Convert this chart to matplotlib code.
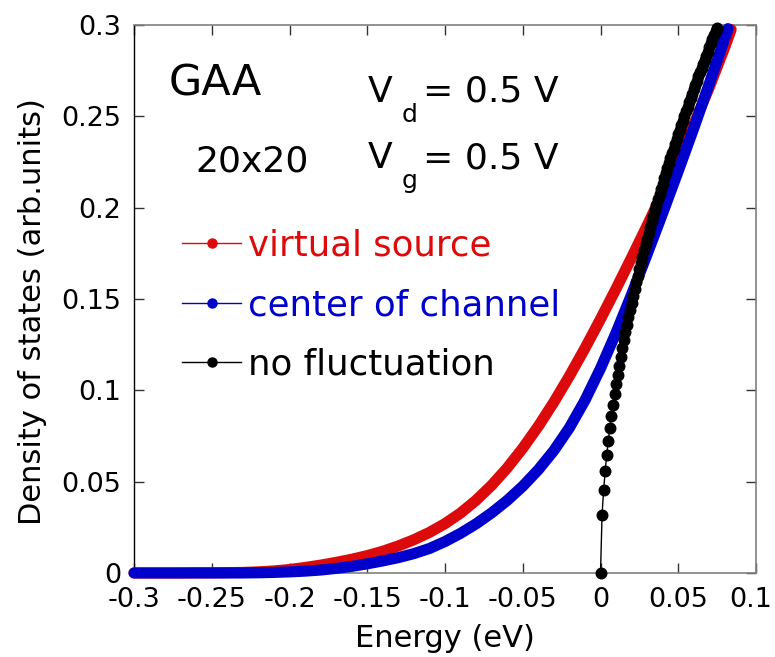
import matplotlib
matplotlib.use("Agg")
import matplotlib.pyplot as plt
from matplotlib.lines import Line2D
from matplotlib.transforms import ScaledTranslation

plt.rcParams['font.family'] = ['DejaVu Sans']

# ---------------- data ----------------
energy_vs = [-0.30, -0.29, -0.28, -0.27, -0.26, -0.25, -0.24, -0.23, -0.22, -0.21,
             -0.20, -0.19, -0.18, -0.17, -0.16, -0.15, -0.14, -0.13, -0.12, -0.11,
             -0.10, -0.09, -0.08, -0.07, -0.06, -0.05, -0.04, -0.03, -0.02, -0.01,
             0.00, 0.01, 0.02, 0.03, 0.04, 0.05, 0.06, 0.07, 0.08, 0.084]
dos_virtual_source = [0.0000, 0.0000, 0.0000, 0.0000, 0.0001, 0.0001, 0.0002, 0.0003, 0.0006, 0.0011,
                      0.0019, 0.0030, 0.0043, 0.0058, 0.0075, 0.0095, 0.0119, 0.0148, 0.0182, 0.0222,
                      0.0270, 0.0328, 0.0398, 0.0480, 0.0575, 0.0683, 0.0803, 0.0935, 0.1078, 0.1230,
                      0.1390, 0.1556, 0.1727, 0.1902, 0.2082, 0.2265, 0.2455, 0.2660, 0.2880, 0.2975]

energy_cc = [-0.30, -0.29, -0.28, -0.27, -0.26, -0.25, -0.24, -0.23, -0.22, -0.21,
             -0.20, -0.19, -0.18, -0.17, -0.16, -0.15, -0.14, -0.13, -0.12, -0.11,
             -0.10, -0.09, -0.08, -0.07, -0.06, -0.05, -0.04, -0.03, -0.02, -0.01,
             0.00, 0.01, 0.02, 0.03, 0.04, 0.05, 0.06, 0.07, 0.08, 0.082]
dos_center_channel = [0.0000, 0.0000, 0.0000, 0.0000, 0.0000, 0.0000, 0.0000, 0.0000, 0.0001, 0.0003,
                      0.0006, 0.0010, 0.0016, 0.0025, 0.0036, 0.0050, 0.0066, 0.0084, 0.0106, 0.0134,
                      0.0172, 0.0217, 0.0269, 0.0329, 0.0397, 0.0475, 0.0565, 0.0670, 0.0795, 0.0945,
                      0.1120, 0.1315, 0.1525, 0.1745, 0.1970, 0.2200, 0.2435, 0.2680, 0.2930, 0.2980]

energy_nf = [0.000, 0.001, 0.002, 0.003, 0.004, 0.005, 0.006, 0.007, 0.008, 0.009,
             0.010, 0.011, 0.012, 0.013, 0.014, 0.015, 0.016, 0.017, 0.018, 0.019,
             0.020, 0.021, 0.022, 0.023, 0.024, 0.025, 0.026, 0.027, 0.028, 0.029,
             0.030, 0.031, 0.032, 0.033, 0.034, 0.035, 0.036, 0.037, 0.038, 0.039,
             0.040, 0.041, 0.042, 0.043, 0.044, 0.045, 0.046, 0.047, 0.048, 0.049,
             0.050, 0.051, 0.052, 0.053, 0.054, 0.055, 0.056, 0.057, 0.058, 0.059,
             0.060, 0.061, 0.062, 0.063, 0.064, 0.065, 0.066, 0.067, 0.068, 0.069,
             0.070, 0.071, 0.072, 0.073, 0.074, 0.075]
dos_no_fluct = [0.0000, 0.0320, 0.0454, 0.0558, 0.0646, 0.0724, 0.0794, 0.0860, 0.0921, 0.0978,
                0.1033, 0.1085, 0.1135, 0.1183, 0.1229, 0.1274, 0.1318, 0.1360, 0.1401, 0.1441,
                0.1480, 0.1518, 0.1556, 0.1593, 0.1628, 0.1664, 0.1698, 0.1732, 0.1766, 0.1799,
                0.1831, 0.1863, 0.1894, 0.1926, 0.1956, 0.1986, 0.2016, 0.2046, 0.2075, 0.2104,
                0.2132, 0.2160, 0.2188, 0.2216, 0.2243, 0.2270, 0.2297, 0.2323, 0.2349, 0.2375,
                0.2401, 0.2427, 0.2452, 0.2477, 0.2502, 0.2527, 0.2551, 0.2576, 0.2600, 0.2624,
                0.2647, 0.2671, 0.2695, 0.2718, 0.2741, 0.2764, 0.2787, 0.2809, 0.2832, 0.2854,
                0.2877, 0.2899, 0.2921, 0.2943, 0.2965, 0.2986]

series_labels = ["virtual source", "center of channel", "no fluctuation"]
x_ticks = [-0.3, -0.25, -0.2, -0.15, -0.1, -0.05, 0, 0.05, 0.1]
x_tick_labels = ["-0.3", "-0.25", "-0.2", "-0.15", "-0.1", "-0.05", "0", "0.05", "0.1"]
y_ticks = [0, 0.05, 0.1, 0.15, 0.2, 0.25, 0.3]
y_tick_labels = ["0", "0.05", "0.1", "0.15", "0.2", "0.25", "0.3"]

RED = "#dc0a0a"
BLUE = "#0000cc"
BLACK = "#000000"

# ---------------- figure ----------------
fig = plt.figure(figsize=(7.75, 6.57), dpi=100)
ax = fig.add_axes([0.1729, 0.1279, 0.8026, 0.8341])

ax.plot(energy_vs, dos_virtual_source, color=RED, lw=8, solid_capstyle="round",
        solid_joinstyle="round", clip_on=False, zorder=3)
ax.plot(energy_cc, dos_center_channel, color=BLUE, lw=8, solid_capstyle="round",
        solid_joinstyle="round", clip_on=False, zorder=4)
ax.plot(energy_nf, dos_no_fluct, color=BLACK, lw=1, marker="o", ms=7.6,
        clip_on=False, zorder=5)

ax.set_xlim(-0.3, 0.1)
ax.set_ylim(0, 0.3)
ax.set_xticks(x_ticks)
ax.set_xticklabels(x_tick_labels)
ax.set_yticks(y_ticks)
ax.set_yticklabels(y_tick_labels)
ax.tick_params(direction="in", length=7.5, width=1, top=True, right=True,
               labelsize=19.5, color="#333333")
ax.tick_params(axis="x", pad=10)
ax.tick_params(axis="y", pad=9)

# the last x tick label sits slightly left, inside the figure edge
last_lbl = ax.get_xticklabels()[-1]
last_lbl.set_transform(last_lbl.get_transform() +
                       ScaledTranslation(-5 / 100, 0, fig.dpi_scale_trans))

for side in ["bottom", "top", "right"]:
    ax.spines[side].set_color("#808080")
    ax.spines[side].set_linewidth(1.2)
ax.spines["left"].set_color("black")
ax.spines["left"].set_linewidth(1.0)

ax.set_xlabel("Energy (eV)", fontsize=22)
ax.xaxis.set_label_coords(0.5, -0.093)
fig.text(33 / 775, 1 - 312 / 657, "Density of states (arb.units)", rotation=90,
         ha="center", va="center", fontsize=22)

# annotations
ax.text(-0.2779, 0.2616, "GAA", fontsize=31, va="baseline", ha="left")
ax.text(-0.2608, 0.2197, "20x20", fontsize=26, va="baseline", ha="left")
ax.text(-0.1495, 0.2580, "V", fontsize=26, va="baseline", ha="left")
ax.text(-0.1278, 0.2470, "d", fontsize=18, va="baseline", ha="left")
ax.text(-0.1141, 0.2580, "= 0.5 V", fontsize=26, va="baseline", ha="left")
ax.text(-0.1495, 0.2215, "V", fontsize=26, va="baseline", ha="left")
ax.text(-0.1278, 0.2105, "g", fontsize=18, va="baseline", ha="left")
ax.text(-0.1141, 0.2215, "= 0.5 V", fontsize=26, va="baseline", ha="left")

handles = [Line2D([], [], color=c, lw=1, marker="o", ms=6.5) for c in (RED, BLUE, BLACK)]
ax.legend(handles, series_labels, loc="upper left", bbox_to_anchor=(0.0772, 0.628),
          frameon=False, borderpad=0, borderaxespad=0, handlelength=1.66,
          handletextpad=0.2, labelspacing=0.71, fontsize=25.6, labelcolor="linecolor")

fig.savefig("out.png", dpi=100, facecolor="white")
